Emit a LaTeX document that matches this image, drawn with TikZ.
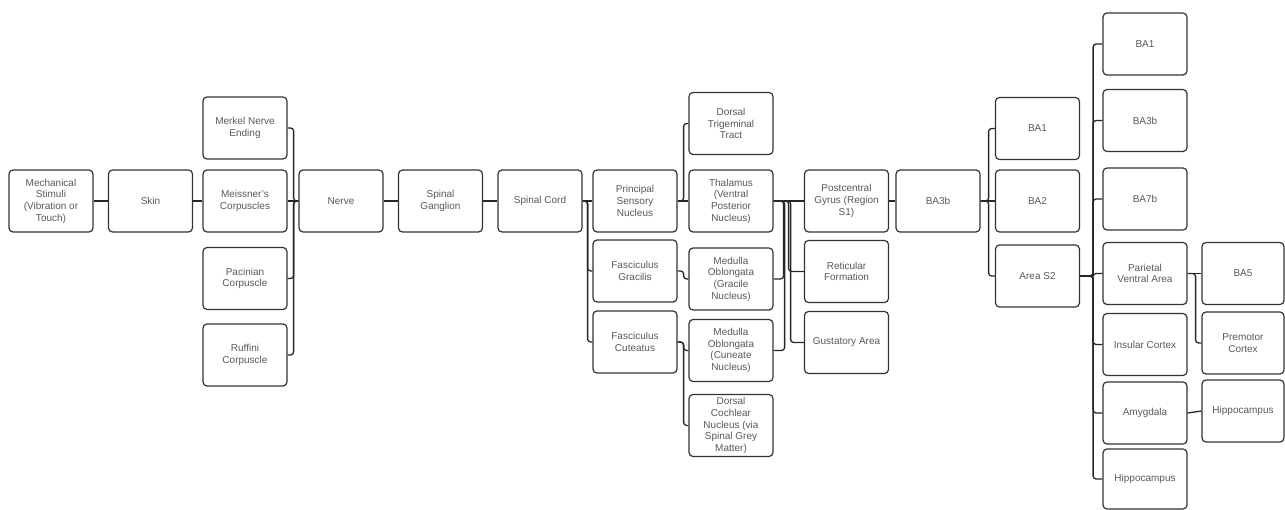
\documentclass[tikz,border=0pt]{standalone}
\usepackage{fontspec}
\setmainfont{Liberation Sans}
\begin{document}
\begin{tikzpicture}[x=1pt,y=-1pt,
  box/.style={draw=black!80, line width=1.2pt, rounded corners=4pt, fill=white,
    minimum width=84pt, minimum height=62pt, inner sep=1pt, align=center,
    text=black!65, font=\fontsize{10}{11.7}\selectfont},
  link/.style={draw=black!85, line width=1.3pt, rounded corners=3pt}]
\useasboundingbox (0,0) rectangle (1285,510);
% nodes
\node[box] (mech) at (51,201) {Mechanical\\Stimuli\\(Vibration or\\Touch)};
\node[box] (skin) at (150.5,201) {Skin};
\node[box] (merkel) at (245,128) {Merkel Nerve\\Ending};
\node[box] (meissner) at (245,201) {Meissner's\\Corpuscles};
\node[box] (pacinian) at (245,278.5) {Pacinian\\Corpuscle};
\node[box] (ruffini) at (245,355) {Ruffini\\Corpuscle};
\node[box] (nerve) at (341,201) {Nerve};
\node[box] (ganglion) at (440.5,201) {Spinal\\Ganglion};
\node[box] (cord) at (540,201) {Spinal Cord};
\node[box] (principal) at (635,201) {Principal\\Sensory\\Nucleus};
\node[box] (dtrig) at (731,123.5) {Dorsal\\Trigeminal\\Tract};
\node[box] (thal) at (731,201) {Thalamus\\(Ventral\\Posterior\\Nucleus)};
\node[box] (post) at (846.5,201) {Postcentral\\Gyrus (Region\\S1)};
\node[box] (fgrac) at (635,271) {Fasciculus\\Gracilis};
\node[box] (medg) at (731,279) {Medulla\\Oblongata\\(Gracile\\Nucleus)};
\node[box] (ret) at (846.5,271.5) {Reticular\\Formation};
\node[box] (fcut) at (635,342) {Fasciculus\\Cuteatus};
\node[box] (medc) at (731,350.5) {Medulla\\Oblongata\\(Cuneate\\Nucleus)};
\node[box] (dcoch) at (731,425.5) {Dorsal\\Cochlear\\Nucleus (via\\Spinal Grey\\Matter)};
\node[box] (gust) at (846.5,342.5) {Gustatory Area};
\node[box] (ba3b) at (938,201) {BA3b};
\node[box] (baA) at (1037.5,128.5) {BA1};
\node[box] (baB) at (1037.5,201) {BA2};
\node[box] (s2) at (1037.5,276) {Area S2};
\node[box] (rba1) at (1145,44) {BA1};
\node[box] (rba3b) at (1145,120.5) {BA3b};
\node[box] (rba7b) at (1145,199) {BA7b};
\node[box] (pva) at (1145,273.5) {Parietal\\Ventral Area};
\node[box] (insular) at (1145,344.5) {Insular Cortex};
\node[box] (amyg) at (1145,413) {Amygdala};
\node[box, minimum height=60pt] (hippo) at (1145,479) {Hippocampus};
\node[box, minimum width=82pt] (ba5) at (1243,273.5) {BA5};
\node[box, minimum width=82pt] (premotor) at (1243,343) {Premotor\\Cortex};
\node[box, minimum width=82pt] (hippoB) at (1243,411) {Hippocampus};
% connectors
\draw[link] (mech.east) -- (skin.west);
\draw[link] (skin.west -| skin.east) -- (meissner.west);
\draw[link] (merkel.east) -- ++(6,0) |- (nerve.west);
\draw[link] (meissner.east) -- (nerve.west);
\draw[link] (pacinian.east) -- ++(6,0) |- (nerve.west);
\draw[link] (ruffini.east) -- ++(6,0) |- (nerve.west);
\draw[link] (nerve.east) -- (ganglion.west);
\draw[link] (ganglion.east) -- (cord.west);
\draw[link] (cord.east) -- (principal.west);
\draw[link] (cord.east) -- ++(5,0) |- (fgrac.west);
\draw[link] (cord.east) -- ++(5,0) |- (fcut.west);
\draw[link] (principal.east) -- (thal.west);
\draw[link] (principal.east) -- ++(6,0) |- (dtrig.west);
\draw[link] (fgrac.east) -- ++(6,0) |- (medg.west);
\draw[link] (fcut.east) -- ++(6,0) |- (medc.west);
\draw[link] (fcut.east) -- ++(6,0) |- (dcoch.west);
\draw[link] (medg.east) -- ++(10,0) |- (thal.east);
\draw[link] (medc.east) -- ++(11,0) |- (thal.east);
\draw[link] (thal.east) -- (post.west);
\draw[link] (thal.east) -- ++(15,0) |- (ret.west);
\draw[link] (thal.east) -- ++(17,0) |- (gust.west);
\draw[link] (post.east) -- (ba3b.west);
\draw[link] (ba3b.east) -- ++(8,0) |- (baA.west);
\draw[link] (ba3b.east) -- (baB.west);
\draw[link] (ba3b.east) -- ++(8,0) |- (s2.west);
\draw[link] (s2.east) -- ++(13,0) |- (rba1.west);
\draw[link] (s2.east) -- ++(13,0) |- (rba3b.west);
\draw[link] (s2.east) -- ++(13,0) |- (rba7b.west);
\draw[link] (s2.east) -- ++(13,0) |- (pva.west);
\draw[link] (s2.east) -- ++(13,0) |- (insular.west);
\draw[link] (s2.east) -- ++(13,0) |- (amyg.west);
\draw[link] (s2.east) -- ++(13,0) |- (hippo.west);
\draw[link] (pva.east) -- (ba5.west);
\draw[link] (pva.east) -- ++(8,0) |- (premotor.west);
\draw[link] (amyg.east) -- (hippoB.west);
\end{tikzpicture}
\end{document}
